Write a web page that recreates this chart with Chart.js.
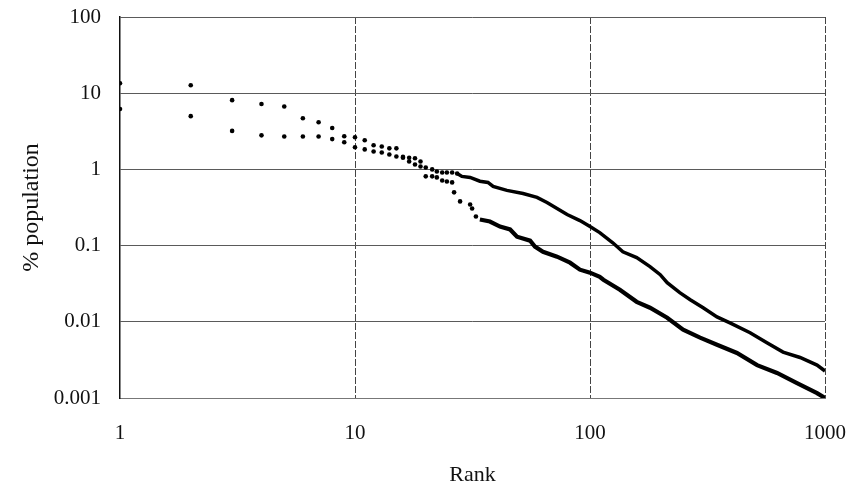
<!DOCTYPE html>
<html>
<head>
<meta charset="utf-8">
<script src="https://cdn.jsdelivr.net/npm/chart.js@4/dist/chart.umd.min.js"></script>
<style>
  html, body { margin: 0; padding: 0; background: #fff; }
  #wrap { width: 856px; height: 486px; }
</style>
</head>
<body>
<div id="wrap"><canvas id="rankChart"></canvas></div>
<script>
// upper series
const rankA = [1,2,3,4,5,6,7,8,9,10,11,12,13,14,15,16,17,18,19,20,
  21.3,22.3,23.5,24.6,25.9,27.2,28.5,30.9,34,36.8,38.7,44.3,51.9,59.5,65.6,72.4,79.9,90.6,
  100,110,125,138,158,180,199,213,241,267,303,347,394,480,566,663,783,925,1000];
const popA  = [13.5,12.7,8.1,7.2,6.7,4.7,4.15,3.5,2.72,2.64,2.41,2.07,2.0,1.89,1.89,1.46,1.42,1.40,1.27,1.06,
  1.0,0.94,0.91,0.91,0.91,0.885,0.81,0.785,0.70,0.675,0.597,0.53,0.483,0.43,0.368,0.307,0.256,0.213,
  0.178,0.148,0.109,0.083,0.0695,0.053,0.0415,0.0326,0.0241,0.0195,0.0153,0.0116,0.0097,0.0072,0.0053,0.0040,0.0034,0.0027,0.00226];

// lower series
const rankB = [1,2,3,4,5,6,7,8,9,10,11,12,13,14,15,16,17,18,19,20,
  21.3,22.3,23.5,24.6,25.9,26.4,28,30.9,31.5,32.7,34,37.5,41.4,45.7,48.9,55.6,58.3,63.1,72.4,82.2,90.6,
  100,110,114,134,158,180,213,249,294,347,422,514,625,760,925,1000];
const popB  = [6.2,5.0,3.2,2.8,2.7,2.7,2.7,2.5,2.27,1.95,1.83,1.72,1.67,1.57,1.48,1.42,1.27,1.16,1.09,0.81,
  0.81,0.785,0.716,0.695,0.675,0.50,0.38,0.346,0.307,0.241,0.22,0.207,0.178,0.163,0.131,0.116,0.097,0.083,0.0716,0.0597,0.0483,
  0.0442,0.039,0.0357,0.0264,0.0183,0.0153,0.0113,0.0079,0.0062,0.0050,0.0039,0.0027,0.00213,0.00157,0.00116,0.001];

const xTicks = [1, 10, 100, 1000];
const xTickLabels = ["1", "10", "100", "1000"];
const yTicks = [0.001, 0.01, 0.1, 1, 10, 100];
const yTickLabels = ["0.001", "0.01", "0.1", "1", "10", "100"];

// ranks below this are drawn as separate dots, above as a thick line
const cutA = 27, cutB = 33;

const toXY = (xs, ys) => xs.map((x, i) => ({ x: x, y: ys[i] }));

const serif = "'Liberation Serif', 'DejaVu Serif', serif";
const gridColor = "#5a5a5a";

function makeSet(data, cut, width) {
  return {
    data: data,
    showLine: true,
    borderColor: "#000",
    borderWidth: width,
    backgroundColor: "#000",
    pointBorderWidth: 0,
    pointRadius: c => (c.raw && c.raw.x < cut + 0.5) ? 2.3 : 0,
    pointHoverRadius: 0,
    segment: {
      borderColor: c => c.p0.parsed.x < cut ? "transparent" : "#000"
    }
  };
}

new Chart(document.getElementById("rankChart"), {
  type: "scatter",
  data: {
    datasets: [
      makeSet(toXY(rankA, popA), cutA, 3.5),
      makeSet(toXY(rankB, popB), cutB, 4.2)
    ]
  },
  options: {
    responsive: true,
    maintainAspectRatio: false,
    animation: false,
    events: [],
    layout: { padding: { left: 0, right: 31, top: 17, bottom: 0 } },
    plugins: { legend: { display: false }, tooltip: { enabled: false } },
    scales: {
      x: {
        type: "logarithmic",
        min: 1, max: 1000,
        afterBuildTicks: s => { s.ticks = xTicks.map(v => ({ value: v })); },
        afterFit: s => { s.height = 88; s.paddingLeft = 0; s.paddingRight = 0; },
        grid: {
          color: c => c.tick && c.tick.value === 1 ? "transparent" : "#444",
          lineWidth: 1, drawTicks: false
        },
        border: { color: "#777", dash: [7, 2] },
        ticks: {
          color: "#111", padding: 23, maxRotation: 0, autoSkip: false,
          font: { family: serif, size: 21 },
          callback: v => xTickLabels[xTicks.indexOf(v)] ?? ""
        },
        title: {
          display: true, text: "Rank", color: "#111",
          font: { family: serif, size: 22, lineHeight: 1 },
          padding: { top: 0, bottom: 0 }
        }
      },
      y: {
        type: "logarithmic",
        min: 0.001, max: 100,
        afterBuildTicks: s => { s.ticks = yTicks.map(v => ({ value: v })); },
        afterFit: s => { s.width = 120; s.paddingTop = 0; s.paddingBottom = 0; },
        grid: { color: gridColor, lineWidth: 1, drawTicks: false },
        border: { color: "#111", width: 1.5 },
        ticks: {
          color: "#111", padding: 19, autoSkip: false,
          font: { family: serif, size: 21 },
          callback: v => {
            const i = yTicks.findIndex(t => Math.abs(t - v) / t < 1e-6);
            return i >= 0 ? yTickLabels[i] : "";
          }
        },
        title: {
          display: true, text: "% population", color: "#111",
          font: { family: serif, size: 24 },
          padding: { top: 17, bottom: 0 }
        }
      }
    }
  }
});
</script>
</body>
</html>
